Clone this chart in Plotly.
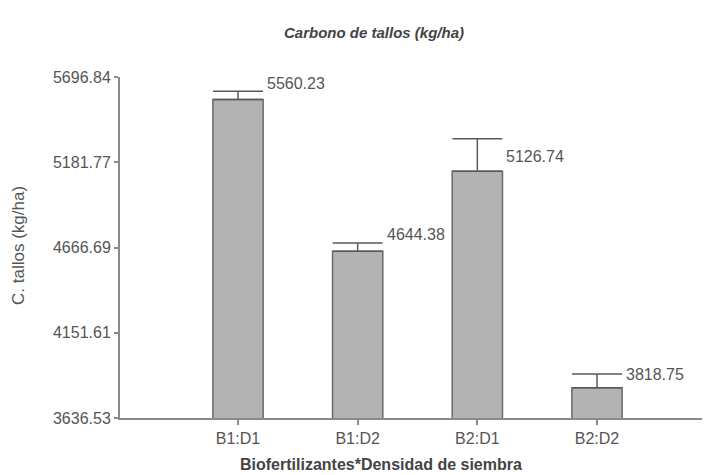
import plotly.graph_objects as go

categories = ["B1:D1", "B1:D2", "B2:D1", "B2:D2"]
means = [5560.23, 4644.38, 5126.74, 3818.75]
errors = [50, 50, 197, 83]
ytick_vals = [3636.53, 4151.61, 4666.69, 5181.77, 5696.84]
label_yshift = [8, 8, -18, 0]

FONT = "Liberation Sans, Arial, sans-serif"

# page body has an 8px margin: figure origin sits at (8, 8) in the window
OX, OY = 8, 8
W, H = 710 - OX, 475 - OY
L, T, B, R = 120 - OX, 77 - OY, 475 - 418, 0
PW, PH = W - L - R, H - T - B

fig = go.Figure()
fig.add_trace(go.Bar(
    x=categories, y=means,
    width=0.42,
    marker=dict(color="#b3b3b3", line=dict(color="#6a6a6a", width=1.5)),
    error_y=dict(type="data", symmetric=False, array=errors,
                 arrayminus=[0] * len(errors), visible=True,
                 color="#5a5a5a", thickness=1.5, width=25),
    hoverinfo="skip",
))

for c, m, e, ys in zip(categories, means, errors, label_yshift):
    fig.add_annotation(x=c, y=m + e, text=f"{m:.2f}", showarrow=False,
                       xanchor="left", yanchor="middle", xshift=27, yshift=ys,
                       font=dict(family=FONT, size=16, color="#555555"))

def px_x(x):
    return (x - OX - L) / PW

def px_y(y):
    return (H - B - (y - OY)) / PH

fig.update_layout(
    width=W, height=H,
    margin=dict(l=L, r=R, t=T, b=B, pad=0),
    plot_bgcolor="white", paper_bgcolor="white",
    showlegend=False,
    font=dict(family=FONT, color="#555555"),
    annotations=list(fig.layout.annotations) + [
        dict(text="<b><i>Carbono de tallos (kg/ha)</i></b>", xref="paper", yref="paper",
             x=px_x(374), y=px_y(33), showarrow=False,
             xanchor="center", yanchor="middle",
             font=dict(family=FONT, size=15, color="#444444")),
        dict(text="<b>Biofertilizantes*Densidad de siembra</b>", xref="paper", yref="paper",
             x=px_x(381), y=px_y(465), showarrow=False,
             xanchor="center", yanchor="middle",
             font=dict(family=FONT, size=16, color="#444444")),
        dict(text="C. tallos (kg/ha)", xref="paper", yref="paper",
             x=px_x(18), y=px_y(246), showarrow=False,
             textangle=-90, xanchor="center", yanchor="middle",
             font=dict(family=FONT, size=17, color="#555555")),
    ],
)

fig.update_xaxes(
    type="category", range=[-0.986, 3.944],
    showline=True, linecolor="#8a8a8a", linewidth=2,
    ticks="outside", ticklen=5, tickcolor="#8a8a8a", tickwidth=1.5,
    tickfont=dict(family=FONT, size=16, color="#555555"),
    showgrid=False, zeroline=False, fixedrange=True,
)
fig.update_yaxes(
    range=[ytick_vals[0], ytick_vals[-1]],
    tickvals=ytick_vals, ticktext=[f"{v:.2f}" for v in ytick_vals],
    showline=True, linecolor="#8a8a8a", linewidth=2,
    ticks="outside", ticklen=4, tickcolor="#8a8a8a", tickwidth=1.5,
    tickfont=dict(family=FONT, size=16, color="#555555"),
    showgrid=False, zeroline=False, fixedrange=True,
)

fig.write_html("out.html")
